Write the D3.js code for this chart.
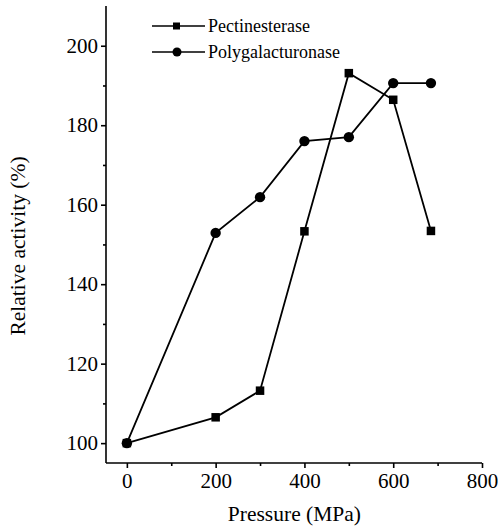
<!DOCTYPE html>
<html lang="en">
<head>
<meta charset="UTF-8"/>
<title>Relative activity vs pressure</title>
<script src="https://d3js.org/d3.v7.min.js"></script>
<style>
    body { margin: 0; background: white; }
    text { font-family: "Liberation Serif", "DejaVu Serif", serif; fill: black; }
</style>
</head>
<body>
<script>
    // Data
    var pressureA = [0, 200, 300, 400, 500, 600, 685];
    var pectinesterase = [100, 106.5, 113.2, 153.3, 193.1, 186.4, 153.4];
    var pressureB = [0, 200, 300, 400, 500, 600, 685];
    var polygalacturonase = [100, 152.9, 161.9, 176, 177, 190.6, 190.6];
    var xTicks = [0, 200, 400, 600, 800];
    var yTicks = [100, 120, 140, 160, 180, 200];
    var seriesNames = ["Pectinesterase", "Polygalacturonase"];

    var W = 498, H = 528;
    var mLeft = 106, mRight = 482, mTop = 6, mBottom = 463;

    var svg = d3.select("body")
                .append("svg")
                .attr("width", W)
                .attr("height", H);

    var xScale = d3.scaleLinear().domain([-47, 800]).range([mLeft, mRight]);
    var yScale = d3.scaleLinear().domain([95, 210]).range([mBottom, mTop]);

    // x-axis
    var xAxis = d3.axisBottom(xScale).tickValues(xTicks).tickSize(5).tickPadding(5);
    var xMinor = d3.axisBottom(xScale).tickValues([100, 300, 500, 700]).tickSize(3).tickFormat("");
    var gx = svg.append("g").attr("transform", "translate(0," + mBottom + ")").call(xAxis);
    svg.append("g").attr("transform", "translate(0," + mBottom + ")").call(xMinor)
       .select(".domain").remove();
    gx.select(".domain").attr("d", "M" + mLeft + ",0H" + mRight);

    // y-axis
    var yAxis = d3.axisLeft(yScale).tickValues(yTicks).tickSize(5).tickPadding(3);
    var yMinor = d3.axisLeft(yScale).tickValues([110, 130, 150, 170, 190]).tickSize(3).tickFormat("");
    var gy = svg.append("g").attr("transform", "translate(" + mLeft + ",0)").call(yAxis);
    svg.append("g").attr("transform", "translate(" + mLeft + ",0)").call(yMinor)
       .select(".domain").remove();
    gy.select(".domain").attr("d", "M0," + mTop + "V" + mBottom);

    svg.selectAll(".domain, .tick line").attr("stroke", "black").attr("stroke-width", 1.6);
    svg.selectAll(".tick text").style("font-size", "21px")
       .style("font-family", "'Liberation Serif', 'DejaVu Serif', serif");

    // axis titles
    svg.append("text")
       .attr("x", (xScale(0) + xScale(800)) / 2 - 10)
       .attr("y", 521)
       .attr("text-anchor", "middle")
       .style("font-size", "21.5px")
       .text("Pressure (MPa)");

    svg.append("text")
       .attr("transform", "translate(25,246) rotate(-90)")
       .attr("text-anchor", "middle")
       .style("font-size", "21.5px")
       .text("Relative activity (%)");

    var lineA = d3.line().x(function(d, i) { return xScale(pressureA[i]); })
                         .y(function(d) { return yScale(d); });
    var lineB = d3.line().x(function(d, i) { return xScale(pressureB[i]); })
                         .y(function(d) { return yScale(d); });

    svg.append("path").datum(pectinesterase).attr("d", lineA)
       .attr("fill", "none").attr("stroke", "black").attr("stroke-width", 1.8);
    svg.append("path").datum(polygalacturonase).attr("d", lineB)
       .attr("fill", "none").attr("stroke", "black").attr("stroke-width", 1.8);

    // markers
    var sq = 8.5;
    svg.selectAll("rect.pe")
       .data(pectinesterase)
       .enter()
       .append("rect")
       .attr("class", "pe")
       .attr("x", function(d, i) { return xScale(pressureA[i]) - sq / 2; })
       .attr("y", function(d) { return yScale(d) - sq / 2; })
       .attr("width", sq)
       .attr("height", sq)
       .attr("fill", "black");

    svg.selectAll("circle.pg")
       .data(polygalacturonase)
       .enter()
       .append("circle")
       .attr("class", "pg")
       .attr("cx", function(d, i) { return xScale(pressureB[i]); })
       .attr("cy", function(d) { return yScale(d); })
       .attr("r", 5.2)
       .attr("fill", "black");

    // legend
    var legend = svg.append("g");
    seriesNames.forEach(function(name, i) {
        var y = 26 + i * 26;
        legend.append("line")
              .attr("x1", 152).attr("x2", 205)
              .attr("y1", y).attr("y2", y)
              .attr("stroke", "black").attr("stroke-width", 1.4);
        if (i === 0) {
            legend.append("rect")
                  .attr("x", 173).attr("y", y - 3.5)
                  .attr("width", 7).attr("height", 7)
                  .attr("fill", "black");
        } else {
            legend.append("circle")
                  .attr("cx", 177).attr("cy", y)
                  .attr("r", 4.5)
                  .attr("fill", "black");
        }
        legend.append("text")
              .attr("x", 208).attr("y", y + 6)
              .style("font-size", "18px")
              .text(name);
    });
</script>
</body>
</html>
